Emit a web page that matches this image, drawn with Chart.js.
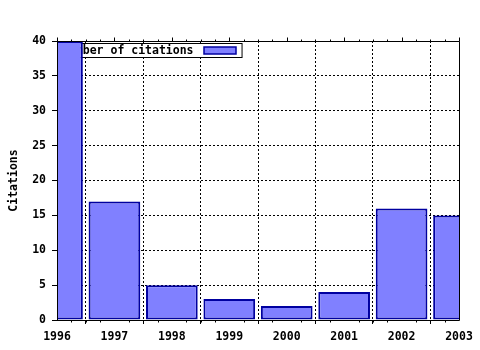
<!DOCTYPE html>
<html><head><meta charset="utf-8">
<script src="https://cdn.jsdelivr.net/npm/chart.js@4/dist/chart.umd.min.js"></script>
<style>html,body{margin:0;padding:0;background:#fff}</style>
</head><body>
<canvas id="c" width="480" height="350"></canvas>
<script>
const years = [1996, 1997, 1998, 1999, 2000, 2001, 2002, 2003];
const citations = [40, 17, 5, 3, 2, 4, 16, 15];
const seriesLabel = 'Number of citations';
const yTitle = 'Citations';
const xRange = [1996, 2003];
const yRange = [0, 40];
const yStep = 5;

const FONT = {family: '"DejaVu Sans Mono", monospace', weight: 'bold', size: 11.5};
const FONT_CSS = 'bold 11.5px "DejaVu Sans Mono", monospace';
const FILL = '#8080ff';
const EDGE = '#0000a0';

// legend drawn inside plot, beneath the bars (as in the reference)
const keyPlugin = {
  id: 'key',
  beforeDatasetsDraw(chart) {
    const {ctx, chartArea: a} = chart;
    const ds = chart.data.datasets[0];
    ctx.save();
    ctx.font = FONT_CSS;
    const x0 = Math.round(a.left) + 3, y0 = Math.round(a.top) + 2;
    const tx = 2;
    const tw = ctx.measureText(ds.label).width;
    const w = tx + tw + 10 + 32 + 6, h = 14;
    ctx.fillStyle = '#fff';
    ctx.fillRect(x0, y0, w, h);
    ctx.strokeStyle = '#000'; ctx.lineWidth = 1;
    ctx.strokeRect(x0 + 0.5, y0 + 0.5, w, h);
    ctx.fillStyle = '#000';
    ctx.textBaseline = 'middle';
    ctx.textAlign = 'left';
    ctx.fillText(ds.label, x0 + tx, y0 + h / 2 + 1);
    const sx = Math.round(x0 + tx + tw + 10);
    ctx.fillStyle = FILL;
    ctx.fillRect(sx, y0 + 4, 32, 7);
    ctx.strokeStyle = EDGE; ctx.lineWidth = 1.5;
    ctx.strokeRect(sx, y0 + 4, 32, 7);
    ctx.restore();
  },
  afterDatasetsDraw(chart) {
    const {ctx, chartArea: a, scales} = chart;
    const L = Math.round(a.left) + 0.5, R = Math.round(a.right) + 0.5;
    const T = Math.round(a.top) + 0.5, B = Math.round(a.bottom) + 0.5;
    ctx.save();
    ctx.strokeStyle = '#000'; ctx.lineWidth = 1;
    ctx.beginPath();
    ctx.rect(L, T, R - L, B - T);
    const xs = scales.x;
    xs.ticks.forEach(t => {
      const px = Math.round(xs.getPixelForValue(t.value)) + 0.5;
      ctx.moveTo(px, T); ctx.lineTo(px, T - 4);
      for (let k = 1; k < 4; k++) {
        const v = t.value + k * 0.25;
        if (v > xs.max) break;
        const mp = Math.round(xs.getPixelForValue(v)) + 0.5;
        ctx.moveTo(mp, T); ctx.lineTo(mp, T - 2);
        ctx.moveTo(mp, B); ctx.lineTo(mp, B + 2);
      }
    });
    ctx.stroke();
    ctx.restore();
  }
};

new Chart(document.getElementById('c'), {
  type: 'bar',
  data: {
    datasets: [{
      label: seriesLabel,
      data: years.map((y, i) => ({x: y, y: citations[i]})),
      backgroundColor: FILL,
      borderColor: EDGE,
      borderWidth: 2,
      borderSkipped: false,
      barPercentage: 0.9,
      categoryPercentage: 1.0
    }]
  },
  options: {
    responsive: false,
    animation: false,
    layout: {padding: {top: 41, right: 21, left: 0, bottom: 0}},
    plugins: {legend: {display: false}, tooltip: {enabled: false}},
    scales: {
      x: {
        type: 'linear',
        position: 'bottom',
        min: xRange[0], max: xRange[1],
        offset: false,
        ticks: {stepSize: 1, autoSkip: false, maxRotation: 0, color: '#000', font: FONT, padding: 6,
                callback: v => String(v)},
        grid: {color: '#000', lineWidth: 1, drawTicks: true, tickLength: 4, tickColor: '#000', tickWidth: 1, tickBorderDash: []},
        border: {display: false, dash: [2, 2]},
        afterFit: s => { s.height = 30; }
      },
      y: {
        type: 'linear',
        min: yRange[0], max: yRange[1],
        ticks: {stepSize: yStep, color: '#000', font: FONT, padding: 6},
        grid: {color: '#000', lineWidth: 1, drawTicks: true, tickLength: 5, tickColor: '#000', tickWidth: 1, tickBorderDash: []},
        border: {display: false, dash: [2, 2]},
        title: {display: true, text: yTitle, color: '#000', font: FONT, padding: {top: 7, bottom: 0}},
        afterFit: s => { s.width = 57; }
      }
    }
  },
  plugins: [keyPlugin]
});
</script>
</body></html>
